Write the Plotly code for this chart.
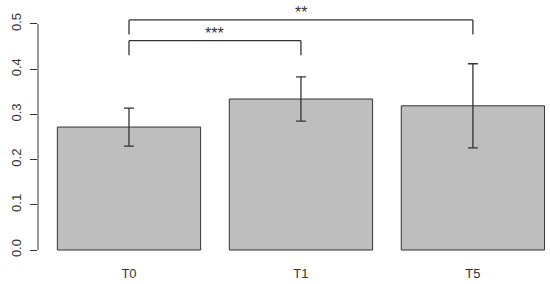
import plotly.graph_objects as go

groups = ["T0", "T1", "T5"]
means = [0.272, 0.334, 0.319]
errs = [0.042, 0.049, 0.093]

# significance brackets: (left group, right group, bracket height, stars)
brackets = [("T0", "T1", 0.463, "***"), ("T0", "T5", 0.509, "**")]

y_ticks = [0.0, 0.1, 0.2, 0.3, 0.4, 0.5]

# R barplot layout: width 1, space 0.2
centers = [0.7 + 1.2 * i for i in range(len(groups))]
pos = dict(zip(groups, centers))

ink = "#333333"
font = dict(family="Liberation Sans, Arial, sans-serif", size=13, color=ink)

fig = go.Figure()
fig.add_trace(go.Bar(
    x=centers, y=means, width=1,
    marker=dict(color="#bebebe", line=dict(color=ink, width=1)),
    error_y=dict(type="data", array=errs, visible=True,
                 color=ink, thickness=1.3, width=5),
    hoverinfo="skip",
))

shapes = []
# y axis line, only over the tick span
shapes.append(dict(type="line", xref="paper", yref="y", x0=0, x1=0,
                   y0=y_ticks[0], y1=y_ticks[-1], line=dict(color=ink, width=1)))
annotations = []
drop = 0.032
for a, b, h, stars in brackets:
    xa, xb = pos[a], pos[b]
    for x0, y0, x1, y1 in [(xa, h - drop, xa, h), (xa, h, xb, h), (xb, h, xb, h - drop)]:
        shapes.append(dict(type="line", xref="x", yref="y", x0=x0, y0=y0, x1=x1, y1=y1,
                           line=dict(color=ink, width=1.3)))
    annotations.append(dict(x=(xa + xb) / 2, y=h + 0.016, xref="x", yref="y",
                            text=stars, showarrow=False, font=dict(font, size=16)))

fig.update_layout(
    width=550, height=284,
    margin=dict(l=38, r=0, t=4, b=22),
    plot_bgcolor="white", paper_bgcolor="white",
    font=font,
    showlegend=False,
    shapes=shapes,
    annotations=annotations,
    xaxis=dict(range=[0.065, 3.638], tickvals=centers, ticktext=groups,
               showgrid=False, zeroline=False, showline=False, ticks="",
               ticklabelstandoff=2, automargin=False),
    yaxis=dict(range=[-0.0265, 0.5442], tickvals=y_ticks,
               ticktext=[f"{v:.1f}" for v in y_ticks], tickangle=-90,
               ticks="outside", ticklen=7, tickcolor=ink, tickwidth=1,
               ticklabelstandoff=4,
               showgrid=False, zeroline=False, showline=False,
               automargin=False),
)

# drop the page's default body margin so the figure sits at the window origin
fig.write_html("out.html", config={"displayModeBar": False},
               post_script="document.body.style.margin='0';")
